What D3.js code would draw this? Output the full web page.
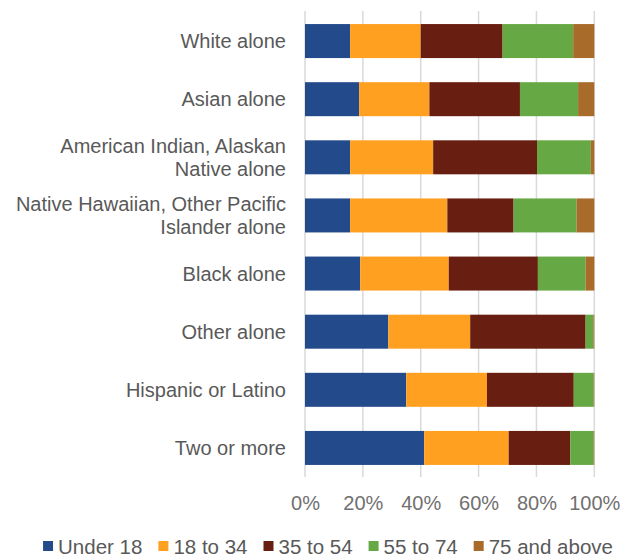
<!DOCTYPE html>
<html>
<head>
<meta charset="utf-8">
<script src="https://cdn.jsdelivr.net/npm/d3@7"></script>
<style>
  html, body { margin: 0; padding: 0; background: #fff; }
  svg { display: block; font-family: "Liberation Sans", Arial, sans-serif; }
</style>
</head>
<body>
<svg id="chart" width="632" height="559"></svg>
<script>
const categories = [
  ["White alone"],
  ["Asian alone"],
  ["American Indian, Alaskan", "Native alone"],
  ["Native Hawaiian, Other Pacific", "Islander alone"],
  ["Black alone"],
  ["Other alone"],
  ["Hispanic or Latino"],
  ["Two or more"]
];
const seriesNames = ["Under 18", "18 to 34", "35 to 54", "55 to 74", "75 and above"];
const under18   = [15.6, 18.7, 15.6, 15.6, 19.1, 28.8, 35.0, 41.2];
const age18to34 = [24.4, 24.3, 28.7, 33.6, 30.6, 28.3, 27.9, 29.2];
const age35to54 = [28.3, 31.3, 35.9, 22.9, 30.8, 39.9, 30.0, 21.3];
const age55to74 = [24.4, 20.1, 18.6, 21.8, 16.5, 2.7, 6.9, 8.1];
const age75plus = [7.3, 5.6, 1.2, 6.1, 3.0, 0.3, 0.2, 0.2];
const xTicks = [0, 20, 40, 60, 80, 100];
const colors = ["#234a8b", "#ffa020", "#681e10", "#66a844", "#a86b2a"];

const seriesValues = [under18, age18to34, age35to54, age55to74, age75plus];
const rows = categories.map((c, i) => {
  const r = { key: c.join(" ") };
  seriesNames.forEach((s, j) => r[s] = seriesValues[j][i]);
  return r;
});

const svg = d3.select("#chart");
const x = d3.scaleLinear().domain([0, 100]).range([305, 594.3]);
const y = d3.scaleBand().domain(rows.map(r => r.key)).range([12, 477]).paddingInner(0.415).paddingOuter(0.2075);

// gridlines
svg.append("g").selectAll("line").data(xTicks).join("line")
  .attr("x1", d => x(d)).attr("x2", d => x(d))
  .attr("y1", 11).attr("y2", 477)
  .attr("stroke", "#d9d9d9").attr("stroke-width", 1.5);

// bars
const stack = d3.stack().keys(seriesNames)(rows);
svg.append("g").selectAll("g").data(stack).join("g")
  .attr("fill", (d, i) => colors[i])
  .selectAll("rect").data(d => d).join("rect")
  .attr("x", d => x(d[0]))
  .attr("width", d => Math.max(0, x(d[1]) - x(d[0])))
  .attr("y", d => y(d.data.key))
  .attr("height", y.bandwidth());

// x axis
const xAxis = d3.axisBottom(x).tickValues(xTicks).tickFormat(d => d + "%").tickSize(0).tickPadding(0);
const gx = svg.append("g").attr("transform", "translate(0,492)").call(xAxis);
gx.select(".domain").remove();
gx.selectAll("text").attr("fill", "#707070").attr("font-size", 20)
  .attr("font-family", "'Liberation Sans', Arial, sans-serif").attr("dy", "0.9em");

// category labels
const lineH = 22.5;
const lab = svg.append("g").selectAll("text").data(categories).join("text")
  .attr("text-anchor", "end")
  .attr("fill", "#595959")
  .attr("font-size", 20)
  .attr("x", 286)
  .attr("y", (d, i) => y(rows[i].key) + y.bandwidth() / 2 + 7 - (d.length - 1) * lineH / 2);
lab.selectAll("tspan").data(d => d).join("tspan")
  .attr("x", 286)
  .attr("dy", (d, i) => i === 0 ? 0 : lineH)
  .text(d => d);

// legend
const leg = svg.append("g");
const sq = 10, gapIn = 5, gapOut = 16;
const items = leg.selectAll("g").data(seriesNames).join("g");
items.append("rect").attr("width", sq).attr("height", sq).attr("y", -sq / 2 - 1)
  .attr("fill", (d, i) => colors[i]);
items.append("text").attr("x", sq + gapIn).attr("y", 7).attr("font-size", 20.5)
  .attr("fill", "#595959").text(d => d);
let cx = 0;
const widths = [];
items.each(function () {
  const w = d3.select(this).select("text").node().getComputedTextLength();
  widths.push(sq + gapIn + w);
});
const total = d3.sum(widths) + gapOut * (widths.length - 1);
cx = 328 - total / 2;
items.attr("transform", (d, i) => {
  const t = `translate(${cx},547)`;
  cx += widths[i] + gapOut;
  return t;
});
</script>
</body>
</html>
